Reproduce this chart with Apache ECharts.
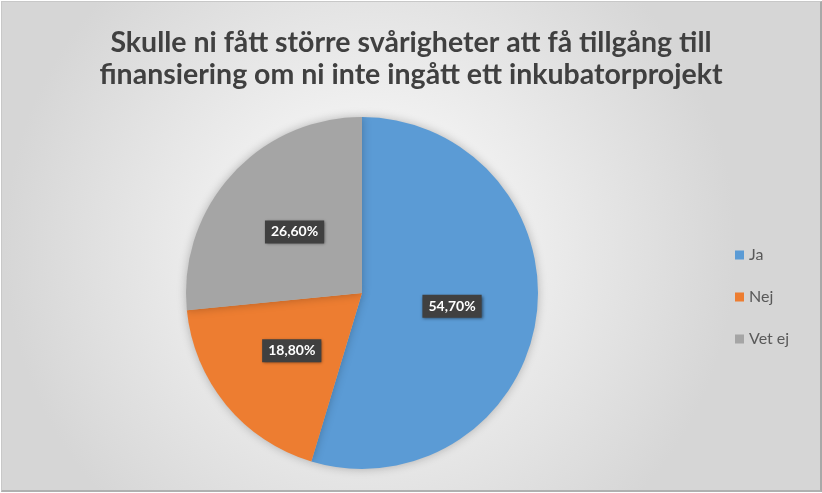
<!DOCTYPE html>
<html><head><meta charset="utf-8">
<script src="https://cdn.jsdelivr.net/npm/echarts@6/dist/echarts.min.js"></script>
<style>
html,body{margin:0;padding:0;background:#fff;}
#c{position:absolute;left:1px;top:1px;width:818px;height:488px;border:1px solid #c8c8c8;border-right:2px solid #a8a8a8;border-bottom:2px solid #b0b0b0;}
</style></head>
<body><div id="c"></div>
<script>
const titleLines = ["Skulle ni fått större svårigheter att få tillgång till", "finansiering om ni inte ingått ett inkubatorprojekt"];
const categories = ["Ja", "Nej", "Vet ej"];
const values = [54.7, 18.8, 26.6];
const colors = ["#5b9bd5", "#ed7d31", "#a5a5a5"];

const chart = echarts.init(document.getElementById('c'));
chart.setOption({
  backgroundColor: {
    type: 'radial', x: 0.45, y: 0.5, r: 0.75,
    colorStops: [{offset: 0, color: '#ffffff'}, {offset: 1, color: '#d6d6d6'}]
  },
  title: {
    text: titleLines.join('\n'),
    left: 'center', top: 20,
    textStyle: {fontFamily: 'Lato', fontWeight: 'bold', fontSize: 28.5, color: '#404040', lineHeight: 32}
  },
  legend: {
    orient: 'vertical', left: 728, top: 240,
    icon: 'rect', itemWidth: 9, itemHeight: 9, itemGap: 26,
    textStyle: {fontFamily: 'Lato', fontSize: 16, color: '#595959'},
    data: categories
  },
  series: [{
    type: 'pie',
    center: [360, 291], radius: 176,
    startAngle: 90, clockwise: true,
    silent: true,
    itemStyle: {shadowBlur: 10, shadowColor: 'rgba(0,0,0,0.25)'},
    label: {
      position: 'inside',
      formatter: p => p.value.toFixed(2).replace('.', ',') + '%',
      color: '#ffffff', fontFamily: 'Lato', fontWeight: 'bold', fontSize: 14,
      backgroundColor: '#404040', padding: [5, 6, 4, 6],
      shadowBlur: 3, shadowColor: 'rgba(0,0,0,0.5)', shadowOffsetX: 1, shadowOffsetY: 1
    },
    labelLine: {show: false},
    data: categories.map((c, i) => ({name: c, value: values[i], itemStyle: {color: colors[i]}}))
  }]
});
</script></body></html>
